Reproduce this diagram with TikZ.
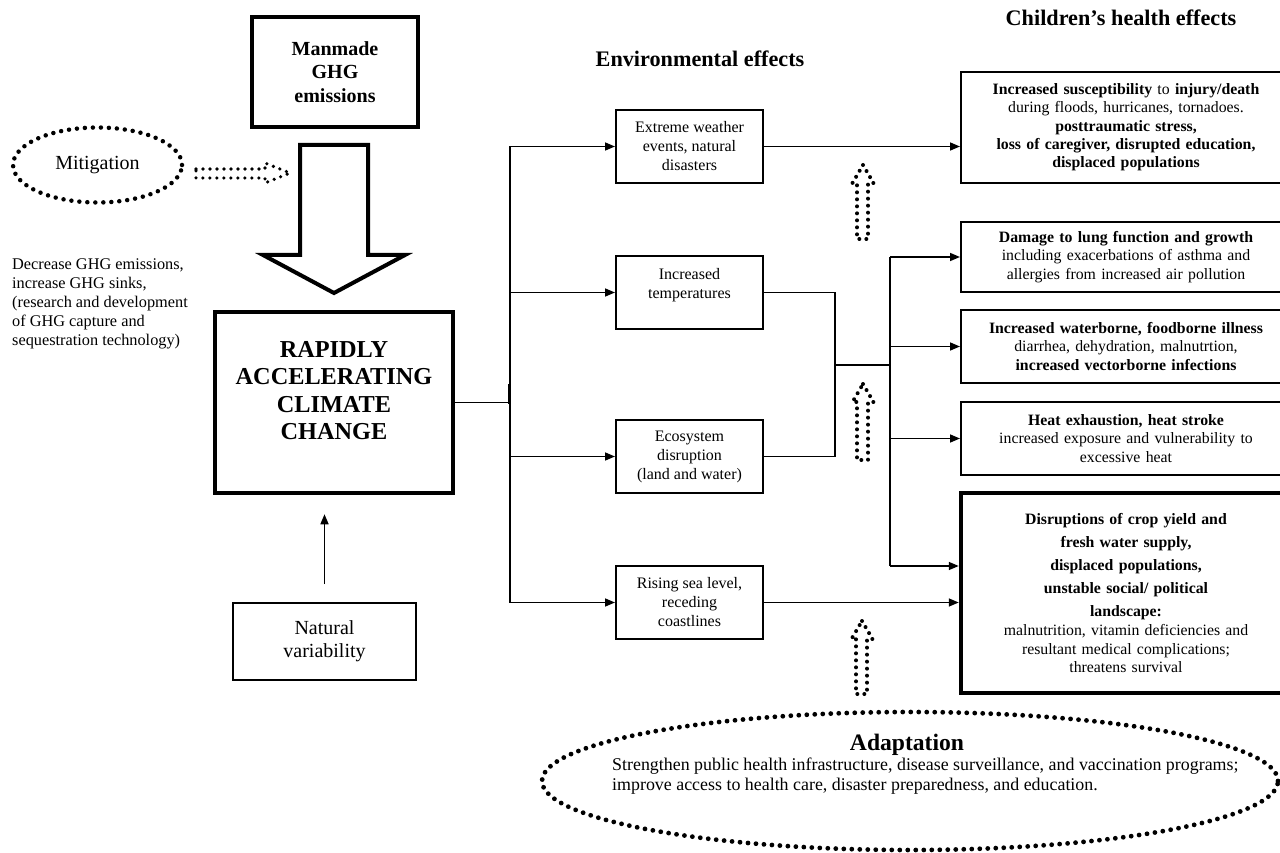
\documentclass[tikz,border=0pt]{standalone}
\usepackage{fontspec}
\setmainfont{Liberation Serif}
\usetikzlibrary{arrows.meta,shapes.geometric}
\newcommand\dotup[3]{%
  \draw[dotline] (#1,#2) -- ({#1+10.5},{#2+18}) -- ({#1+5},{#2+18}) -- ({#1+5},#3) -- ({#1-6},#3) -- ({#1-6},{#2+18}) -- ({#1-10.5},{#2+18}) -- cycle;}
\tikzset{
  arr/.style={-{Triangle[length=10pt,width=8pt]}, line width=1.5pt},
  conn/.style={line width=1.5pt},
  envbox/.style={draw, line width=2pt, minimum width=147pt, minimum height=73pt, align=center, inner sep=0pt, font=\fontsize{16}{19}\selectfont},
  hbox/.style={draw, line width=2pt, minimum width=330pt, text width=320pt, inner sep=0pt, align=center, font=\fontsize{15.8}{18.3}\selectfont},
  thickbox/.style={draw, line width=4.5pt, align=center, inner sep=0pt},
  dotline/.style={line width=4pt, line cap=round, dash pattern=on 0pt off 7pt},
  header/.style={font=\fontsize{22.2}{26}\selectfont\bfseries},
}
\begin{document}
\begin{tikzpicture}[x=1pt,y=-1pt]
\useasboundingbox (0,0) rectangle (1280,853);
\fill[white] (0,0) rectangle (1280,853);

% headers
\node[header] (envh) at (700,59) {Environmental effects};
\node[header] (chh) at (1121,18) {Children’s health effects};

% left column
\node[thickbox, minimum width=166pt, minimum height=110pt, font=\fontsize{20}{23.5}\selectfont\bfseries] (man) at (335,72) {Manmade\\GHG\\emissions};
\draw[line width=4pt, fill=white, line join=miter] (300,145) -- (368,145) -- (368,255) -- (405,255) -- (334,293) -- (263,255) -- (300,255) -- cycle;
\node[thickbox, minimum width=238pt, minimum height=181pt, font=\fontsize{24.3}{27.5}\selectfont\bfseries] (clim) at (334,402.5) {RAPIDLY\\ACCELERATING\\CLIMATE\\CHANGE\\[-3pt]\mbox{}};
\node[draw, line width=2pt, minimum width=183pt, minimum height=77pt, align=center, inner sep=0pt, font=\fontsize{20}{23}\selectfont] (nat) at (324.5,641.5) {Natural\\variability};
\draw[arr, shorten <=18pt, shorten >=19pt] (nat.north) -- (nat.north |- clim.south);

\node[ellipse, draw, dotline, line width=4.5pt, dash pattern=on 0pt off 8pt, minimum width=169pt, minimum height=75pt, font=\fontsize{20}{23}\selectfont] (mit) at (97.5,165) {Mitigation};
\draw[dotline, line width=3.6pt, dash pattern=on 0pt off 7pt] (196,169) -- (265,169) -- (265,163) -- (290,173) -- (265,183) -- (265,178) -- (196,178) -- cycle;
\node[anchor=north west, align=left, inner sep=0pt, font=\fontsize{16.3}{19}\selectfont] (mittxt) at (12,259) {Decrease GHG emissions,\\increase GHG sinks,\\(research and development\\of GHG capture and\\sequestration technology)};

% environmental boxes
\node[envbox] (env1) at (689.5,146.5) {Extreme weather\\events, natural\\disasters};
\node[envbox] (env2) at (689.5,292.5) {Increased\\temperatures\\\mbox{}};
\node[envbox] (env3) at (689.5,456.5) {Ecosystem\\disruption\\(land and water)};
\node[envbox] (env4) at (689.5,602.5) {Rising sea level,\\receding\\coastlines};

% health boxes
\node[hbox, minimum height=111pt] (h1) at (1126,127.5) {\textbf{Increased susceptibility} to \textbf{injury/death}\\during floods, hurricanes, tornadoes.\\\textbf{posttraumatic stress,}\\\textbf{loss of caregiver, disrupted education,}\\\textbf{displaced populations}};
\node[hbox, minimum height=70pt] (h2) at (1126,257) {\textbf{Damage to lung function and growth}\\including exacerbations of asthma and\\allergies from increased air pollution};
\node[hbox, minimum height=73pt] (h3) at (1126,346.5) {\textbf{Increased waterborne, foodborne illness}\\diarrhea, dehydration, malnutrtion,\\\textbf{increased vectorborne infections}};
\node[hbox, minimum height=73pt] (h4) at (1126,438.5) {\textbf{Heat exhaustion, heat stroke}\\increased exposure and vulnerability to\\excessive heat};
\node[hbox, line width=4.5pt, minimum height=200pt] (h5) at (1126,593) {\textbf{Disruptions of crop yield and}\\[4.7pt]\textbf{fresh water supply,}\\[4.7pt]\textbf{displaced populations,}\\[4.7pt]\textbf{unstable social/ political}\\[4.7pt]\textbf{landscape:}\\[1pt]malnutrition, vitamin deficiencies and\\resultant medical complications;\\threatens survival};

% trunk
\coordinate (tj) at (510,402.5);
\draw[conn] (clim.east) -- (tj);
\draw[conn] (tj |- env1.west) -- (tj |- env4.west);
\draw[line width=3pt] (tj) -- ++(-1,0) -- ++(0,-19);
\foreach \e in {env1,env2,env3,env4}
  \draw[arr] (tj |- \e.west) -- (\e.west);

% right connectors
\draw[arr] (env1.east) -- (env1.east -| h1.west);
\coordinate (mj) at (835,365);
\coordinate (dj) at (890,365);
\coordinate (dj5) at (890,566);
\draw[conn] (env2.east) -| (mj);
\draw[conn] (env3.east) -| (mj);
\draw[conn] (mj) -- (dj);
\draw[conn] (dj |- h2.west) -- (dj5);
\draw[arr] (dj |- h2.west) -- (h2.west);
\draw[arr] (dj |- h3.west) -- (h3.west);
\draw[arr] (dj |- h4.west) -- (h4.west);
\draw[arr] (dj5) -- (dj5 -| h5.west);
\draw[arr] (env4.east) -- (env4.east -| h5.west);

% dotted up arrows
\dotup{863}{165}{239}
\dotup{863}{384}{460}
\dotup{862}{621}{694}

% adaptation
\node[ellipse, draw, dotline, line width=4.8pt, dash pattern=on 0pt off 8pt, minimum width=736pt, minimum height=138pt] (ad) at (910,781) {};
\node[font=\fontsize{23.6}{27}\selectfont\bfseries] (adt) at (907,745) {Adaptation};
\node[anchor=north west, align=left, inner sep=0pt, font=\fontsize{17.9}{20}\selectfont] (adb) at (612,758) {Strengthen public health infrastructure, disease surveillance, and vaccination programs;\\improve access to health care, disaster preparedness, and education.};
\end{tikzpicture}
\end{document}
